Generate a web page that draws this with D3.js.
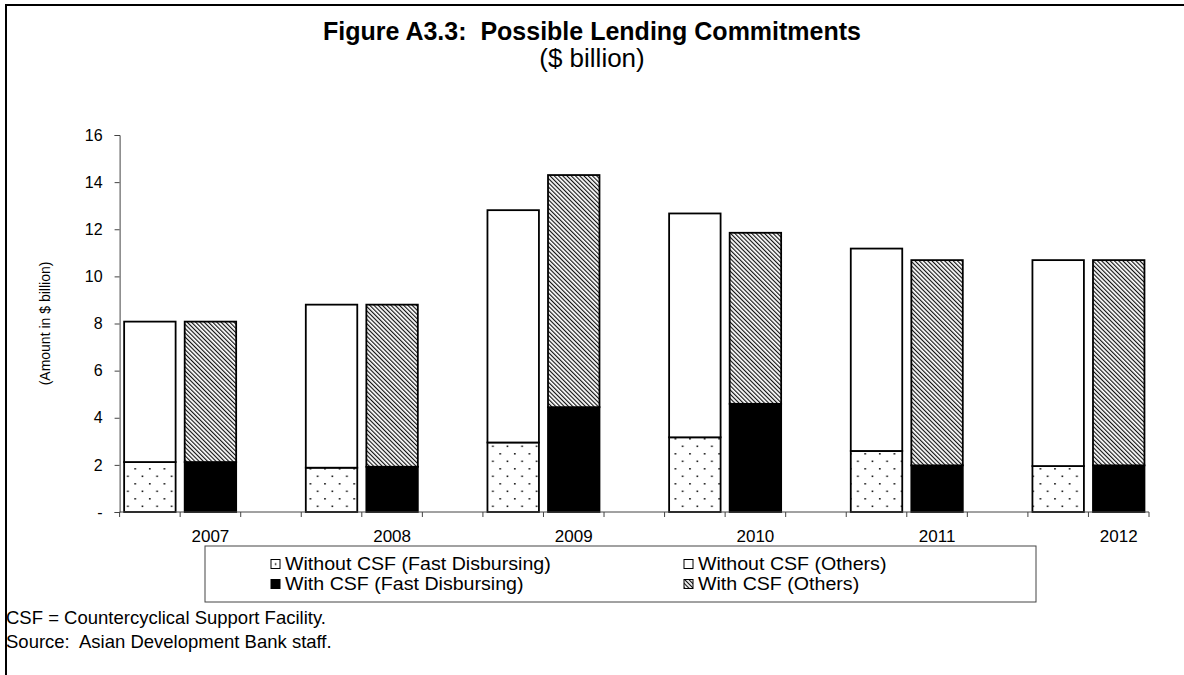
<!DOCTYPE html>
<html>
<head>
<meta charset="utf-8">
<script src="https://cdn.jsdelivr.net/npm/d3@7"></script>
<style>
  html, body { margin: 0; padding: 0; background: #fff; }
  svg { display: block; font-family: "Liberation Sans", Arial, sans-serif; }
  text { white-space: pre; }
</style>
</head>
<body>
<svg id="chart" width="1184" height="675"></svg>
<script>
// ---- data ----
const years = ["2007", "2008", "2009", "2010", "2011", "2012"];
const withoutFast   = [2.12, 1.88, 2.95, 3.17, 2.59, 1.95];
const withoutOthers = [5.96, 6.92, 9.86, 9.50, 8.59, 8.74];
const withFast      = [2.12, 1.92, 4.45, 4.59, 1.98, 1.98];
const withOthers    = [5.96, 6.88, 9.85, 7.26, 8.71, 8.71];
const yTicks = [0, 2, 4, 6, 8, 10, 12, 14, 16];
const legendLabels = [
  "Without CSF (Fast Disbursing)", "Without CSF (Others)",
  "With CSF (Fast Disbursing)", "With CSF (Others)"
];

// ---- layout ----
const svg = d3.select("#chart");
const x0 = 119.6, x1 = 1149, yBottom = 512, yTop = 135;

// slots: per year "without", "with", then a gap (none after last year)
const slots = [];
years.forEach((yr, i) => {
  slots.push(yr + "|without");
  slots.push(yr + "|with");
  if (i < years.length - 1) slots.push(yr + "|gap");
});
const x = d3.scaleBand().domain(slots).range([x0, x1]).paddingInner(0.15).paddingOuter(0.075);
const y = d3.scaleLinear().domain([0, 16]).range([yBottom, yTop]);

// ---- patterns ----
const defs = svg.append("defs");
const dots = defs.append("pattern").attr("id", "dots")
  .attr("patternUnits", "userSpaceOnUse").attr("width", 14.6).attr("height", 15);
dots.append("rect").attr("width", 14.6).attr("height", 15).attr("fill", "#fff");
dots.append("rect").attr("x", 3).attr("y", 3).attr("width", 1.6).attr("height", 1.6).attr("fill", "#111");
dots.append("rect").attr("x", 10.3).attr("y", 10.5).attr("width", 1.6).attr("height", 1.6).attr("fill", "#111");

const hatch = defs.append("pattern").attr("id", "hatch")
  .attr("patternUnits", "userSpaceOnUse").attr("width", 3.0).attr("height", 10)
  .attr("patternTransform", "rotate(-45)");
hatch.append("rect").attr("width", 3.0).attr("height", 10).attr("fill", "#fff");
hatch.append("rect").attr("width", 1.15).attr("height", 10).attr("fill", "#111");

const dotLeg = defs.append("pattern").attr("id", "dotLeg")
  .attr("patternUnits", "objectBoundingBox").attr("width", 1).attr("height", 1);
dotLeg.append("rect").attr("width", 9).attr("height", 9).attr("fill", "#fff");
dotLeg.append("rect").attr("x", 3.8).attr("y", 3.8).attr("width", 1.6).attr("height", 1.6).attr("fill", "#111");

// ---- frame ----
svg.append("rect").attr("x", 6).attr("y", 5).attr("width", 1300).attr("height", 800)
  .attr("fill", "none").attr("stroke", "#000").attr("stroke-width", 2);

// ---- title ----
svg.append("text").attr("x", 592).attr("y", 40).attr("text-anchor", "middle")
  .attr("font-size", 25).attr("font-weight", "bold").text("Figure A3.3:  Possible Lending Commitments");
svg.append("text").attr("x", 592).attr("y", 67).attr("text-anchor", "middle")
  .attr("font-size", 26).text("($ billion)");

// ---- bars ----
const segs = [];
years.forEach((yr, i) => {
  segs.push({ slot: yr + "|without", y0: 0, y1: withoutFast[i], fill: "url(#dots)" });
  segs.push({ slot: yr + "|without", y0: withoutFast[i], y1: withoutFast[i] + withoutOthers[i], fill: "#fff" });
  segs.push({ slot: yr + "|with", y0: 0, y1: withFast[i], fill: "#000" });
  segs.push({ slot: yr + "|with", y0: withFast[i], y1: withFast[i] + withOthers[i], fill: "url(#hatch)" });
});
svg.append("g").selectAll("rect").data(segs).join("rect")
  .attr("x", d => x(d.slot))
  .attr("width", x.bandwidth())
  .attr("y", d => y(d.y1))
  .attr("height", d => y(d.y0) - y(d.y1))
  .attr("fill", d => d.fill)
  .attr("stroke", "#000").attr("stroke-width", 1.8);

// ---- y axis ----
const yAxis = d3.axisLeft(y).tickValues(yTicks).tickSize(5).tickPadding(12)
  .tickFormat(d => d === 0 ? "-" : d3.format("d")(d));
const gy = svg.append("g").attr("transform", `translate(${x0},0)`).call(yAxis);
gy.select(".domain").attr("stroke", "#444");
gy.selectAll(".tick line").attr("stroke", "#444");
gy.selectAll(".tick text").attr("font-size", 16).attr("font-family", "Liberation Sans, Arial, sans-serif").attr("fill", "#000");

svg.append("text").attr("transform", `translate(46,${(yTop + yBottom) / 2}) rotate(-90)`)
  .attr("text-anchor", "middle").attr("dominant-baseline", "middle")
  .attr("font-size", 14).text("(Amount in $ billion)");

// ---- x axis ----
const step = x.step();
const offset = (step - x.bandwidth()) / 2;
const boundaries = slots.map(s => x(s) - offset).concat([x1]);
const gx = svg.append("g");
gx.append("line").attr("x1", x0).attr("x2", x1).attr("y1", yBottom).attr("y2", yBottom)
  .attr("stroke", "#444").attr("stroke-width", 1);
gx.selectAll("line.tk").data(boundaries).join("line").attr("class", "tk")
  .attr("x1", d => d).attr("x2", d => d).attr("y1", yBottom).attr("y2", yBottom + 5)
  .attr("stroke", "#444");
gx.selectAll("text").data(years).join("text")
  .attr("x", d => x(d + "|with") + x.bandwidth() / 2)
  .attr("y", 542).attr("text-anchor", "middle").attr("font-size", 17).text(d => d);

// ---- legend ----
const lg = svg.append("g");
lg.append("rect").attr("x", 205).attr("y", 546).attr("width", 831).attr("height", 56)
  .attr("fill", "#fff").attr("stroke", "#444").attr("stroke-width", 1);
const legFills = ["url(#dotLeg)", "#fff", "#000", "url(#hatch)"];
const legItems = lg.selectAll("g.it").data(legendLabels).join("g").attr("class", "it")
  .attr("transform", (d, i) => `translate(${i % 2 === 0 ? 271 : 684},${i < 2 ? 564 : 584})`);
legItems.append("rect").attr("x", 0).attr("y", -4.5).attr("width", 9).attr("height", 9)
  .attr("fill", (d, i) => legFills[i]).attr("stroke", "#000").attr("stroke-width", 1);
legItems.append("text").attr("x", 14).attr("y", 0).attr("dominant-baseline", "central")
  .attr("font-size", 17.5).attr("textLength", (d, i) => null).text(d => d)
  .each(function () {
    // widen slightly to match the reference's broader legend lettering
    const w = this.getComputedTextLength();
    d3.select(this).attr("textLength", w * 1.12).attr("lengthAdjust", "spacingAndGlyphs");
  });

// ---- footnotes ----
svg.append("text").attr("x", 6).attr("y", 624).attr("font-size", 18.5).text("CSF = Countercyclical Support Facility.");
svg.append("text").attr("x", 6).attr("y", 648).attr("font-size", 18.5).text("Source:  Asian Development Bank staff.");
</script>
</body>
</html>
